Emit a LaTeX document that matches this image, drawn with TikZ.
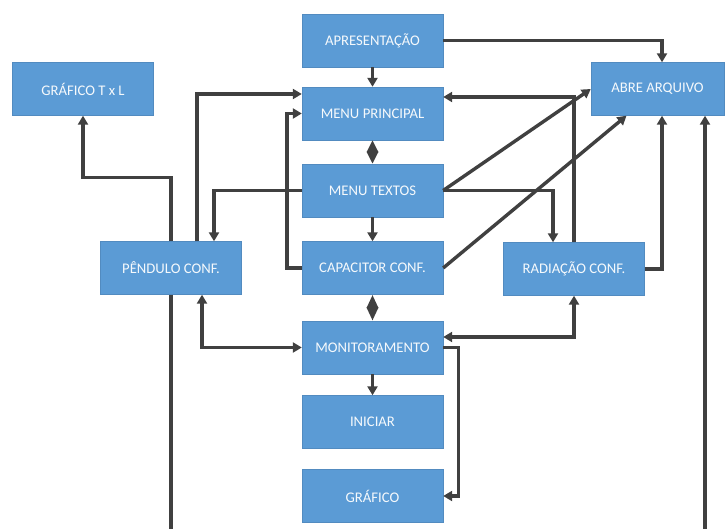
\documentclass[tikz,border=0pt]{standalone}
\usepackage{fontspec}
\setmainfont{Carlito}
\usetikzlibrary{arrows.meta,positioning}
\definecolor{boxblue}{RGB}{91,155,213}
\definecolor{darkline}{RGB}{64,64,64}

\begin{document}
\begin{tikzpicture}[
  x=1pt, y=1pt,
  block/.style={
    fill=boxblue,
    draw=boxblue!90!black,
    line width=0.4pt,
    minimum width=141pt,
    minimum height=53pt,
    inner sep=0pt,
    align=center,
    font=\fontsize{14.7}{17}\selectfont,
    text=white!94!boxblue
  },
  line/.style={-{Triangle[length=9pt,width=10pt]}, line width=3.4pt, draw=darkline},
  dline/.style={{Triangle[length=9pt,width=10pt]}-{Triangle[length=9pt,width=10pt]}, line width=3.4pt, draw=darkline},
  dia/.style={{Triangle[length=#1,width=11pt]}-{Triangle[length=#1,width=11pt]}, line width=3.4pt, draw=darkline},
  dia/.default=12pt,
  wire/.style={line width=3.4pt, draw=darkline}
]
\useasboundingbox (0,0) rectangle (725,529);

% ===== Middle column =====
\node[block] (apres) at (372.5,488.5) {APRESENTAÇÃO};
\node[block] (menup) at (372.5,415.5) {MENU PRINCIPAL};
\node[block] (menut) at (372.5,338.5) {MENU TEXTOS};
\node[block] (capac) at (372.5,261) {CAPACITOR CONF.};
\node[block] (monit) at (372.5,181.5) {MONITORAMENTO};
\node[block] (iniciar) at (372.5,107) {INICIAR};
\node[block] (grafico) at (372.5,33) {GRÁFICO};

% ===== Side blocks =====
\node[block] (graftl) at (83,440) {GRÁFICO T x L};
\node[block] (pendulo) at (171,261) {PÊNDULO CONF.};
\node[block] (radiacao) at (574,260) {RADIAÇÃO CONF.};
\node[block, minimum width=133pt] (abre) at (657.5,440) {ABRE ARQUIVO};

% loose ends at the bottom
\coordinate (lbot) at (171,0);
\coordinate (rbot) at (705,0);

% ===== Middle column links =====
\draw[line] (apres) -- (menup);
\draw[dia] (menup) -- (menut);
\draw[line] (menut) -- (capac);
\draw[dia=13.5pt] (capac) -- (monit);
\draw[line] (monit) -- (iniciar);
\draw[line] (monit.east) -- ++(15,0) |- (grafico.east);

% ===== Right side =====
\draw[line] (apres.east) -| ([xshift=4.5pt]abre.north);
\draw[line] (menut.east) -- (abre.west);
\draw[line] (capac.east) -- ([xshift=-31pt]abre.south);
\draw[line] (menut.east) -| ([xshift=-21pt]radiacao.north);
\draw[line] (radiacao.north) |- ([yshift=16.5pt]menup.east);
\draw[line] (radiacao.east) -| ([xshift=4.5pt]abre.south);
\draw[dline] (radiacao.south) |- ([yshift=10.5pt]monit.east);
\draw[line] (rbot) -- (rbot |- abre.south);

% ===== Left side =====
\draw[line] (menut.west) -| ([xshift=43pt]pendulo.north);
\draw[line] ([xshift=26pt]pendulo.north) |- ([yshift=19.5pt]menup.west);
\draw[line] (capac.west) -- ++(-15,0) |- (menup.west);
\draw[line] (pendulo.north) -- ++(0,64) -| (graftl.south);
\draw[dline] ([xshift=31pt]pendulo.south) |- (monit.west);
\draw[wire] (pendulo.south) -- (lbot);

\end{tikzpicture}
\end{document}
